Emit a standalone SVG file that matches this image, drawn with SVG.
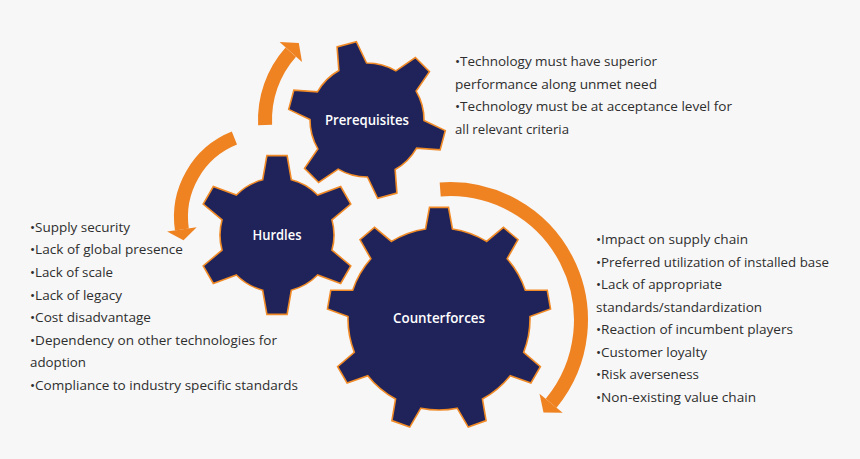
<svg xmlns="http://www.w3.org/2000/svg" width="860" height="459" viewBox="0 0 860 459">
<style>
.gear{fill:#1f235a;stroke:#f08a26;stroke-width:1.6;stroke-linejoin:miter}
.lbl{font-family:"Open Sans","Noto Sans",sans-serif;font-size:13.5px;font-weight:600;fill:#ffffff;text-anchor:middle}
.txt{font-family:"Open Sans","Noto Sans",sans-serif;font-size:13.5px;fill:#2e2e2e}
.arc{fill:none;stroke:#ef8322;stroke-width:14;stroke-linecap:butt}
.head{fill:#ef8322}
</style>
<rect width="860" height="459" fill="#f7f7f7"/>
<g id="connectors">
  <path class="arc" d="M265.1,125 A102,102 0 0 1 290.8,52.1"/>
  <polygon class="head" points="279.6,42.1 298.8,43.1 302,62.1"/>
  <path class="arc" d="M234.4,138.1 A85,85 0 0 0 181.9,229.4"/>
  <polygon class="head" points="167.1,231.6 183.5,240.3 196.7,227.2"/>
  <path class="arc" d="M440.2,189.4 A131,131 0 0 1 551.1,403.3"/>
  <polygon class="head" points="539.5,393.8 543.5,412.6 562.7,412.8"/>
</g>
<g id="prerequisites">
  <path class="gear" d="M424,120.42 L445.28,130.65 L440.12,149.91 L416.57,148.14 A57,57 0 0 1 395.14,169.57 L396.91,193.12 L377.65,198.28 L367.42,177 A57,57 0 0 1 338.14,169.15 L318.63,182.46 L304.54,168.37 L317.85,148.86 A57,57 0 0 1 310,119.58 L288.72,109.35 L293.88,90.09 L317.43,91.86 A57,57 0 0 1 338.86,70.43 L337.09,46.88 L356.35,41.72 L366.58,63 A57,57 0 0 1 395.86,70.85 L415.37,57.54 L429.46,71.63 L416.15,91.14 A57,57 0 0 1 424,120.42 Z"/>
  <text class="lbl" x="367" y="125" textLength="84" lengthAdjust="spacingAndGlyphs">Prerequisites</text>
</g>
<g id="hurdles">
  <path class="gear" d="M331.95,250.16 L350.78,265.94 L340.68,283.42 L317.6,275.01 A57,57 0 0 1 291.35,290.16 L287.1,314.36 L266.9,314.36 L262.65,290.16 A57,57 0 0 1 236.4,275.01 L213.32,283.42 L203.22,265.94 L222.05,250.16 A57,57 0 0 1 222.05,219.84 L203.22,204.06 L213.32,186.58 L236.4,194.99 A57,57 0 0 1 262.65,179.84 L266.9,155.64 L287.1,155.64 L291.35,179.84 A57,57 0 0 1 317.6,194.99 L340.68,186.58 L350.78,204.06 L331.95,219.84 A57,57 0 0 1 331.95,250.16 Z"/>
  <text class="lbl" x="277" y="240" textLength="49" lengthAdjust="spacingAndGlyphs">Hurdles</text>
</g>
<g id="counterforces">
  <path class="gear" d="M523.67,352.35 L540.39,366.58 L530.9,383.02 L510.22,375.65 A91,91 0 0 1 482.42,398.97 L486.09,420.62 L468.25,427.11 L457.14,408.17 A91,91 0 0 1 420.86,408.17 L409.75,427.11 L391.91,420.62 L395.58,398.97 A91,91 0 0 1 367.78,375.65 L347.1,383.02 L337.61,366.58 L354.33,352.35 A91,91 0 0 1 348.03,316.62 L327.45,308.97 L330.75,290.28 L352.7,290.13 A91,91 0 0 1 370.85,258.7 L360,239.61 L374.54,227.41 L391.45,241.41 A91,91 0 0 1 425.55,229 L429.51,207.4 L448.49,207.4 L452.45,229 A91,91 0 0 1 486.55,241.41 L503.46,227.41 L518,239.61 L507.15,258.7 A91,91 0 0 1 525.3,290.13 L547.25,290.28 L550.55,308.97 L529.97,316.62 A91,91 0 0 1 523.67,352.35 Z"/>
  <text class="lbl" x="439" y="322.5" textLength="92" lengthAdjust="spacingAndGlyphs">Counterforces</text>
</g>
<g id="prerequisites-text" class="txt">
  <text x="455" y="66" textLength="202" lengthAdjust="spacingAndGlyphs">•Technology must have superior</text>
  <text x="455" y="88.5" textLength="202" lengthAdjust="spacingAndGlyphs">performance along unmet need</text>
  <text x="455" y="111" textLength="277" lengthAdjust="spacingAndGlyphs">•Technology must be at acceptance level for</text>
  <text x="455" y="133.5" textLength="114" lengthAdjust="spacingAndGlyphs">all relevant criteria</text>
</g>
<g id="hurdles-text" class="txt">
  <text x="30" y="231.7" textLength="100" lengthAdjust="spacingAndGlyphs">•Supply security</text>
  <text x="30" y="254.3" textLength="153" lengthAdjust="spacingAndGlyphs">•Lack of global presence</text>
  <text x="30" y="276.9" textLength="83" lengthAdjust="spacingAndGlyphs">•Lack of scale</text>
  <text x="30" y="299.5" textLength="92" lengthAdjust="spacingAndGlyphs">•Lack of legacy</text>
  <text x="30" y="322.1" textLength="121" lengthAdjust="spacingAndGlyphs">•Cost disadvantage</text>
  <text x="30" y="344.7" textLength="247" lengthAdjust="spacingAndGlyphs">•Dependency on other technologies for</text>
  <text x="30" y="367.3" textLength="56" lengthAdjust="spacingAndGlyphs">adoption</text>
  <text x="30" y="389.9" textLength="268" lengthAdjust="spacingAndGlyphs">•Compliance to industry specific standards</text>
</g>
<g id="counterforces-text" class="txt">
  <text x="596" y="244" textLength="152" lengthAdjust="spacingAndGlyphs">•Impact on supply chain</text>
  <text x="596" y="266.5" textLength="233" lengthAdjust="spacingAndGlyphs">•Preferred utilization of installed base</text>
  <text x="596" y="289" textLength="126" lengthAdjust="spacingAndGlyphs">•Lack of appropriate</text>
  <text x="596" y="311.5" textLength="166" lengthAdjust="spacingAndGlyphs">standards/standardization</text>
  <text x="596" y="334" textLength="197" lengthAdjust="spacingAndGlyphs">•Reaction of incumbent players</text>
  <text x="596" y="356.5" textLength="111" lengthAdjust="spacingAndGlyphs">•Customer loyalty</text>
  <text x="596" y="379" textLength="103" lengthAdjust="spacingAndGlyphs">•Risk averseness</text>
  <text x="596" y="401.5" textLength="160" lengthAdjust="spacingAndGlyphs">•Non-existing value chain</text>
</g>
</svg>
